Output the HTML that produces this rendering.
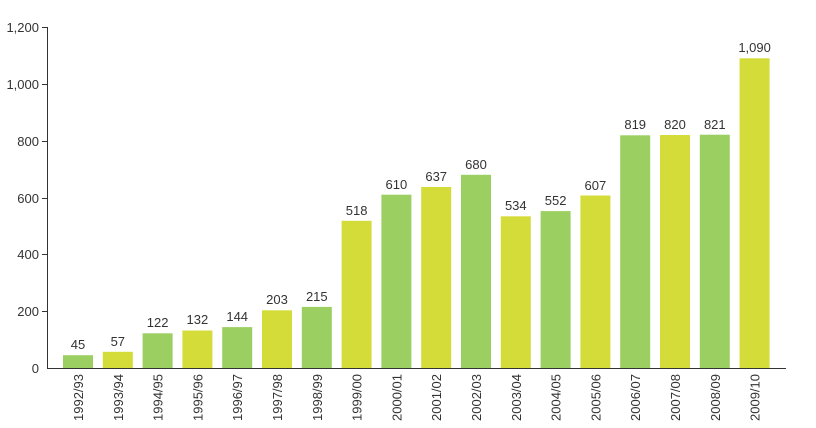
<!DOCTYPE html>
<html><head><style>body{margin:0;background:#fff}svg{display:block}text{font-family:"Liberation Sans",sans-serif;fill:#333}</style></head>
<body>
<svg width="816" height="428" xmlns="http://www.w3.org/2000/svg">
<g stroke="#333" stroke-width="1">
<line x1="47.5" y1="27" x2="47.5" y2="368.5"/>
<line x1="47" y1="368.5" x2="786" y2="368.5"/>
<line x1="42" y1="27.5" x2="47" y2="27.5"/>
<line x1="42" y1="84.5" x2="47" y2="84.5"/>
<line x1="42" y1="141.5" x2="47" y2="141.5"/>
<line x1="42" y1="198.5" x2="47" y2="198.5"/>
<line x1="42" y1="254.5" x2="47" y2="254.5"/>
<line x1="42" y1="311.5" x2="47" y2="311.5"/>
</g>
<g font-size="13" text-anchor="end">
<text x="39" y="32">1,200</text><text x="39" y="89">1,000</text><text x="39" y="146">800</text>
<text x="39" y="203">600</text><text x="39" y="259">400</text><text x="39" y="316">200</text><text x="39" y="373">0</text>
</g>
<g>
<rect x="63" y="355.2" width="30" height="12.8" fill="#9ccf62"/>
<rect x="102.8" y="351.8" width="30" height="16.2" fill="#d4dc3a"/>
<rect x="142.6" y="333.3" width="30" height="34.7" fill="#9ccf62"/>
<rect x="182.4" y="330.5" width="30" height="37.5" fill="#d4dc3a"/>
<rect x="222.2" y="327.1" width="30" height="40.9" fill="#9ccf62"/>
<rect x="262" y="310.3" width="30" height="57.7" fill="#d4dc3a"/>
<rect x="301.8" y="306.9" width="30" height="61.1" fill="#9ccf62"/>
<rect x="341.6" y="220.8" width="30" height="147.2" fill="#d4dc3a"/>
<rect x="381.4" y="194.7" width="30" height="173.3" fill="#9ccf62"/>
<rect x="421.2" y="187" width="30" height="181" fill="#d4dc3a"/>
<rect x="461" y="174.8" width="30" height="193.2" fill="#9ccf62"/>
<rect x="500.8" y="216.3" width="30" height="151.7" fill="#d4dc3a"/>
<rect x="540.6" y="211.1" width="30" height="156.9" fill="#9ccf62"/>
<rect x="580.4" y="195.5" width="30" height="172.5" fill="#d4dc3a"/>
<rect x="620.2" y="135.3" width="30" height="232.7" fill="#9ccf62"/>
<rect x="660" y="135" width="30" height="233" fill="#d4dc3a"/>
<rect x="699.8" y="134.7" width="30" height="233.3" fill="#9ccf62"/>
<rect x="739.6" y="58.3" width="30" height="309.7" fill="#d4dc3a"/>
</g>
<g font-size="13" text-anchor="middle">
<text x="78" y="349">45</text>
<text x="117.8" y="346">57</text>
<text x="157.6" y="327">122</text>
<text x="197.4" y="324">132</text>
<text x="237.2" y="321">144</text>
<text x="277" y="304">203</text>
<text x="316.8" y="301">215</text>
<text x="356.6" y="215">518</text>
<text x="396.4" y="189">610</text>
<text x="436.2" y="181">637</text>
<text x="476" y="169">680</text>
<text x="515.8" y="210">534</text>
<text x="555.6" y="205">552</text>
<text x="595.4" y="190">607</text>
<text x="635.2" y="129">819</text>
<text x="675" y="129">820</text>
<text x="714.8" y="129">821</text>
<text x="754.6" y="52">1,090</text>
</g>
<g font-size="13" text-anchor="end">
<text transform="translate(83,374) rotate(-90)">1992/93</text>
<text transform="translate(122.8,374) rotate(-90)">1993/94</text>
<text transform="translate(162.6,374) rotate(-90)">1994/95</text>
<text transform="translate(202.4,374) rotate(-90)">1995/96</text>
<text transform="translate(242.2,374) rotate(-90)">1996/97</text>
<text transform="translate(282,374) rotate(-90)">1997/98</text>
<text transform="translate(321.8,374) rotate(-90)">1998/99</text>
<text transform="translate(361.6,374) rotate(-90)">1999/00</text>
<text transform="translate(401.4,374) rotate(-90)">2000/01</text>
<text transform="translate(441.2,374) rotate(-90)">2001/02</text>
<text transform="translate(481,374) rotate(-90)">2002/03</text>
<text transform="translate(520.8,374) rotate(-90)">2003/04</text>
<text transform="translate(560.6,374) rotate(-90)">2004/05</text>
<text transform="translate(600.4,374) rotate(-90)">2005/06</text>
<text transform="translate(640.2,374) rotate(-90)">2006/07</text>
<text transform="translate(680,374) rotate(-90)">2007/08</text>
<text transform="translate(719.8,374) rotate(-90)">2008/09</text>
<text transform="translate(759.6,374) rotate(-90)">2009/10</text>
</g>
</svg>
</body></html>
